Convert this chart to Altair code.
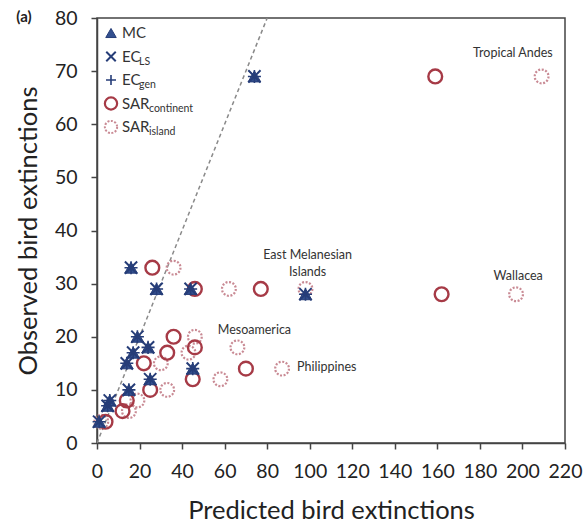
import altair as alt
import pandas as pd

# ---- data ----
# Blue model predictions (MC, EC_LS, EC_gen overlap at the same spots)
mc_pred  = [74, 16, 28, 44, 98, 19, 24, 17, 14, 45, 25, 15, 6, 5, 1]
mc_obs   = [69, 33, 29, 29, 28, 20, 18, 17, 15, 14, 12, 10, 8, 7, 4]
ecls_pred = [74, 16, 28, 44, 98, 19, 24, 17, 14, 45, 25, 15, 6, 5, 1]
ecls_obs  = [69, 33, 29, 29, 28, 20, 18, 17, 15, 14, 12, 10, 8, 7, 4]
ecgen_pred = [74, 16, 28, 44, 98, 19, 24, 17, 14, 45, 25, 15, 6, 5, 1]
ecgen_obs  = [69, 33, 29, 29, 28, 20, 18, 17, 15, 14, 12, 10, 8, 7, 4]

sarc_pred = [159, 26, 46, 77, 162, 36, 46, 33, 22, 70, 45, 25, 14, 12, 4]
sarc_obs  = [69, 33, 29, 29, 28, 20, 18, 17, 15, 14, 12, 10, 8, 6, 4]
sari_pred = [209, 36, 62, 98, 197, 46, 66, 43, 30, 87, 58, 33, 19, 15, 2]
sari_obs  = [69, 33, 29, 29, 28, 20, 18, 17, 15, 14, 12, 10, 8, 6, 4]

one_to_one = [0, 80]

label_text = ["Tropical Andes", "East Melanesian", "Islands", "Mesoamerica", "Philippines", "Wallacea"]
label_x    = [195.5, 99, 99, 74, 108, 198]
label_y    = [73.5, 35.4, 32.2, 21.2, 14.4, 31.4]

legend_main = ["MC", "EC", "EC", "SAR", "SAR"]
legend_sub  = ["", "LS", "gen", "continent", "island"]

x_ticks = list(range(0, 221, 20))
y_ticks = list(range(0, 81, 10))

FONT = "Lato"
BLUE = "#33508f"
BLUE_DARK = "#263d78"
RED = "#a63a46"
PINK = "#c98a94"

W, H = 468, 425

xs = alt.Scale(domain=[0, 220], nice=False)
ys = alt.Scale(domain=[0, 80], nice=False)

xax = alt.Axis(values=x_ticks, title="Predicted bird extinctions", grid=False,
               labelFontSize=19.5, titleFontSize=25.5, labelFont=FONT, titleFont=FONT,
               labelColor="#222", titleColor="#222", titleFontWeight="normal",
               domainColor="#444", domainWidth=1.5, tickColor="#444", tickWidth=1.5,
               tickSize=6, labelPadding=13, titleX=W / 2, titleY=67,
               titleBaseline="middle", labelFlush=False)
yax = alt.Axis(values=y_ticks, title="Observed bird extinctions", grid=False,
               labelFontSize=19.5, titleFontSize=25.5, labelFont=FONT, titleFont=FONT,
               labelColor="#222", titleColor="#222", titleFontWeight="normal",
               domainColor="#444", domainWidth=1.5, tickColor="#444", tickWidth=1.5,
               tickSize=6, labelPadding=14, titleX=-69, titleY=H / 2,
               titleBaseline="middle", titleAlign="center", titleAngle=-90, labelFlush=False)

line_df = pd.DataFrame({"x": one_to_one, "y": one_to_one})
line = alt.Chart(line_df).mark_line(color="#8a8a8a", strokeDash=[4, 3], strokeWidth=1.5, clip=True).encode(
    x=alt.X("x:Q", scale=xs, axis=xax), y=alt.Y("y:Q", scale=ys, axis=yax))


def pts(px, py):
    return pd.DataFrame({"x": px, "y": py})


enc = dict(x=alt.X("x:Q", scale=xs), y=alt.Y("y:Q", scale=ys))

sari = alt.Chart(pts(sari_pred, sari_obs)).mark_point(
    shape="circle", size=190, filled=False, stroke=PINK, strokeWidth=2.2, strokeDash=[2, 1.6], opacity=1
).encode(**enc)
sarc = alt.Chart(pts(sarc_pred, sarc_obs)).mark_point(
    shape="circle", size=190, filled=False, stroke=RED, strokeWidth=2.4, opacity=1
).encode(**enc)
mc = alt.Chart(pts(mc_pred, mc_obs)).mark_point(
    shape="triangle-up", size=160, filled=True, fill=BLUE, stroke=BLUE_DARK, strokeWidth=1, opacity=1
).encode(**enc)
X_PATH = "M-1,-1L1,1M-1,1L1,-1"
PLUS_PATH = "M-1,0L1,0M0,-1L0,1"
ecls = alt.Chart(pts(ecls_pred, ecls_obs)).mark_point(
    shape=X_PATH, size=150, filled=False, stroke=BLUE_DARK, strokeWidth=2, opacity=1
).encode(**enc)
ecgen = alt.Chart(pts(ecgen_pred, ecgen_obs)).mark_point(
    shape=PLUS_PATH, size=170, filled=False, stroke=BLUE_DARK, strokeWidth=1.6, opacity=1
).encode(**enc)

lab_df = pd.DataFrame({"t": label_text, "x": label_x, "y": label_y})
labels = alt.Chart(lab_df).mark_text(font=FONT, fontSize=12.5, color="#333", align="center",
                                     baseline="middle").encode(
    x=alt.X("x:Q", scale=xs), y=alt.Y("y:Q", scale=ys), text="t:N")

# ---- custom legend (with subscripts) ----
one = pd.DataFrame({"a": [0]})
leg_layers = []
row_y = [15, 38.5, 62, 85.5, 109]
marker_styles = [
    dict(shape="triangle-up", size=110, filled=True, fill=BLUE, stroke=BLUE_DARK, strokeWidth=1),
    dict(shape=X_PATH, size=90, filled=False, stroke=BLUE_DARK, strokeWidth=2),
    dict(shape=PLUS_PATH, size=100, filled=False, stroke=BLUE_DARK, strokeWidth=1.6),
    dict(shape="circle", size=150, filled=False, stroke=RED, strokeWidth=2.2),
    dict(shape="circle", size=150, filled=False, stroke=PINK, strokeWidth=2, strokeDash=[2, 1.5]),
]
sub_dx = [0, 17, 17, 27, 27]
for i in range(5):
    leg_layers.append(alt.Chart(one).mark_point(opacity=1, **marker_styles[i]).encode(
        x=alt.value(14), y=alt.value(row_y[i])))
    leg_layers.append(alt.Chart(one).mark_text(font=FONT, fontSize=15, color="#333", align="left",
                                               baseline="middle", text=legend_main[i]).encode(
        x=alt.value(25), y=alt.value(row_y[i])))
    if legend_sub[i]:
        leg_layers.append(alt.Chart(one).mark_text(font=FONT, fontSize=10.5, color="#333", align="left",
                                                   baseline="middle", text=legend_sub[i]).encode(
            x=alt.value(25 + sub_dx[i]), y=alt.value(row_y[i] + 5)))

panel = alt.Chart(one).mark_text(font=FONT, fontSize=15, fontWeight="bold", color="#222",
                                 align="center", baseline="middle", text="(a)").encode(
    x=alt.value(-73), y=alt.value(-1))

chart = alt.layer(line, sari, sarc, mc, ecls, ecgen, labels, *leg_layers, panel).properties(
    width=W, height=H,
    autosize=alt.AutoSizeParams(type="none"),
    padding={"left": 97, "top": 18, "right": 21, "bottom": 80},
    background="white",
).configure_view(stroke="#444", strokeWidth=1.5)

chart.save("out.html", embed_options={"renderer": "svg", "actions": False})
